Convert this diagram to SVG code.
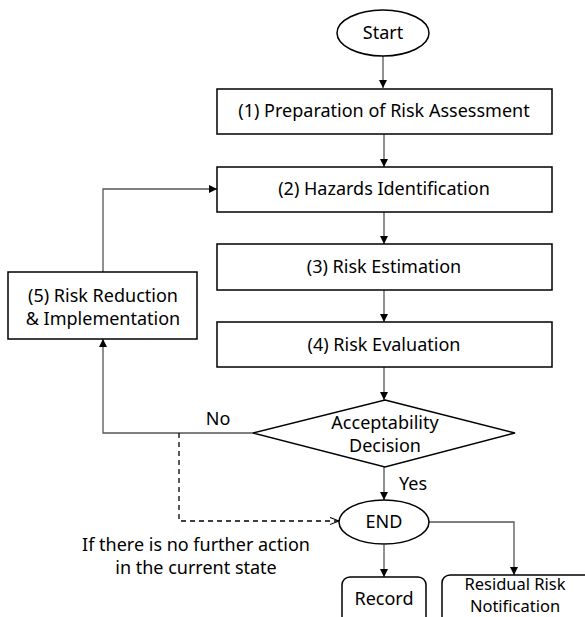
<svg xmlns="http://www.w3.org/2000/svg" width="585" height="617" viewBox="0 0 585 617">
<defs>
<marker id="ah" viewBox="0 0 10 10" refX="10" refY="5" markerWidth="8" markerHeight="8" markerUnits="userSpaceOnUse" orient="auto">
<path d="M0,0 L10,5 L0,10 z" fill="#000"/>
</marker>
<marker id="open" viewBox="0 0 10 10" refX="10" refY="5" markerWidth="9" markerHeight="9" markerUnits="userSpaceOnUse" orient="auto">
<path d="M0,1 L10,5 L0,9" fill="none" stroke="#000" stroke-width="1.2"/>
</marker>
<style>
.box{fill:#fff;stroke:#000;stroke-width:1.5}
.t{font-family:"Noto Sans","Open Sans","DejaVu Sans",sans-serif;font-size:18px;fill:#000;text-anchor:middle}
.s{font-size:16.5px}
.c{fill:none;stroke:#555;stroke-width:1.3}
.d{fill:none;stroke:#000;stroke-width:1.3;stroke-dasharray:5,4}
</style>
</defs>
<rect width="585" height="617" fill="#fff"/>
<g id="connectors">
<line class="c" x1="383" y1="56" x2="383" y2="88" marker-end="url(#ah)"/>
<line class="c" x1="384" y1="134" x2="384" y2="167" marker-end="url(#ah)"/>
<line class="c" x1="384" y1="212" x2="384" y2="244" marker-end="url(#ah)"/>
<line class="c" x1="384" y1="290" x2="384" y2="322" marker-end="url(#ah)"/>
<line class="c" x1="384" y1="367" x2="384" y2="400" marker-end="url(#ah)"/>
<line class="c" x1="384" y1="467" x2="384" y2="500" marker-end="url(#ah)"/>
<polyline class="c" points="253,433 103,433 103,339" marker-end="url(#ah)"/>
<polyline class="c" points="103,272 103,189 217,189" marker-end="url(#ah)"/>
<polyline class="d" points="179,433 179,521 339,521" marker-end="url(#open)"/>
<line class="c" x1="384" y1="545" x2="384" y2="577" marker-end="url(#ah)"/>
<polyline class="c" points="428,522 514,522 514,575" marker-end="url(#ah)"/>
<text class="t" x="218" y="425">No</text>
<text class="t" x="413" y="490">Yes</text>
<text class="t" x="196" y="551">If there is no further action</text>
<text class="t" x="196" y="574">in the current state</text>
</g>
<g id="start">
<ellipse class="box" cx="383" cy="33" rx="46" ry="23"/>
<text class="t" x="383" y="39">Start</text>
</g>
<g id="step1">
<rect class="box" x="217" y="89" width="335" height="45"/>
<text class="t" x="384" y="117">(1) Preparation of Risk Assessment</text>
</g>
<g id="step2">
<rect class="box" x="217" y="167" width="335" height="45"/>
<text class="t" x="384" y="195">(2) Hazards Identification</text>
</g>
<g id="step3">
<rect class="box" x="217" y="244" width="335" height="46"/>
<text class="t" x="384" y="273">(3) Risk Estimation</text>
</g>
<g id="step4">
<rect class="box" x="217" y="322" width="335" height="45"/>
<text class="t" x="384" y="351">(4) Risk Evaluation</text>
</g>
<g id="step5">
<rect class="box" x="8" y="272" width="189" height="67"/>
<text class="t" x="103" y="302">(5) Risk Reduction</text>
<text class="t" x="103" y="325">&amp; Implementation</text>
</g>
<g id="decision">
<polygon class="box" points="385,400 515,433 385,467 253,433"/>
<text class="t" x="385" y="429">Acceptability</text>
<text class="t" x="385" y="452">Decision</text>
</g>
<g id="end">
<ellipse class="box" cx="384" cy="522" rx="45" ry="22"/>
<text class="t" x="384" y="528">END</text>
</g>
<g id="record">
<rect class="box" x="342" y="577" width="84" height="60" rx="8"/>
<text class="t" x="384" y="605">Record</text>
</g>
<g id="residual">
<rect class="box" x="442" y="575" width="150" height="60" rx="8"/>
<text class="t s" x="515" y="590">Residual Risk</text>
<text class="t s" x="515" y="612">Notification</text>
</g>
</svg>
